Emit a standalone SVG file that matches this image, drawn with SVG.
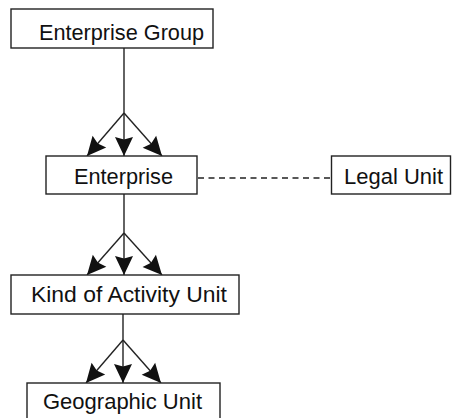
<svg xmlns="http://www.w3.org/2000/svg" width="452" height="418" viewBox="0 0 452 418">
<style>
.box{fill:#fff;stroke:#222;stroke-width:1.4}
.lbl{font-family:"Liberation Sans",Arial,sans-serif;font-size:22px;fill:#111;text-anchor:middle}
.ln{fill:none;stroke:#222;stroke-width:1.4}
.arr{marker-end:url(#ah)}
.dash{stroke-dasharray:6,4.5;stroke-width:1.7}
</style>
<defs>
<marker id="ah" markerUnits="userSpaceOnUse" markerWidth="22" markerHeight="20" refX="19" refY="9" orient="auto" overflow="visible">
<path d="M0,0 L19,9 L0,18 L2.5,9 z" fill="#111"/>
</marker>
</defs>
<rect width="452" height="418" fill="#fff"/>
<g id="connectors">
<path class="ln" d="M124,48 V113"/>
<path class="ln arr" d="M124,113 L87,156"/>
<path class="ln arr" d="M124,113 V156"/>
<path class="ln arr" d="M124,113 L162,156"/>
<path class="ln dash" d="M198,178 H331"/>
<path class="ln" d="M124,194 V233"/>
<path class="ln arr" d="M124,233 L87,275"/>
<path class="ln arr" d="M124,233 V275"/>
<path class="ln arr" d="M124,233 L162,275"/>
<path class="ln" d="M123,314 V340"/>
<path class="ln arr" d="M123,340 L86,383"/>
<path class="ln arr" d="M123,340 V383"/>
<path class="ln arr" d="M123,340 L161,383"/>
</g>
<g id="enterprise-group">
<rect class="box" x="11" y="9" width="202" height="39"/>
<text class="lbl" x="121.5" y="39.5" textLength="165" lengthAdjust="spacingAndGlyphs">Enterprise Group</text>
</g>
<g id="enterprise">
<rect class="box" x="46" y="156" width="151" height="38"/>
<text class="lbl" x="123.5" y="184" textLength="99" lengthAdjust="spacingAndGlyphs">Enterprise</text>
</g>
<g id="legal-unit">
<rect class="box" x="331.5" y="156" width="119" height="38"/>
<text class="lbl" x="393.5" y="184" textLength="99" lengthAdjust="spacingAndGlyphs">Legal Unit</text>
</g>
<g id="kind-of-activity-unit">
<rect class="box" x="11" y="275" width="228" height="39"/>
<text class="lbl" x="129" y="302" textLength="196" lengthAdjust="spacingAndGlyphs">Kind of Activity Unit</text>
</g>
<g id="geographic-unit">
<rect class="box" x="27" y="383" width="193" height="40"/>
<text class="lbl" x="122.5" y="409" textLength="159" lengthAdjust="spacingAndGlyphs">Geographic Unit</text>
</g>
</svg>
